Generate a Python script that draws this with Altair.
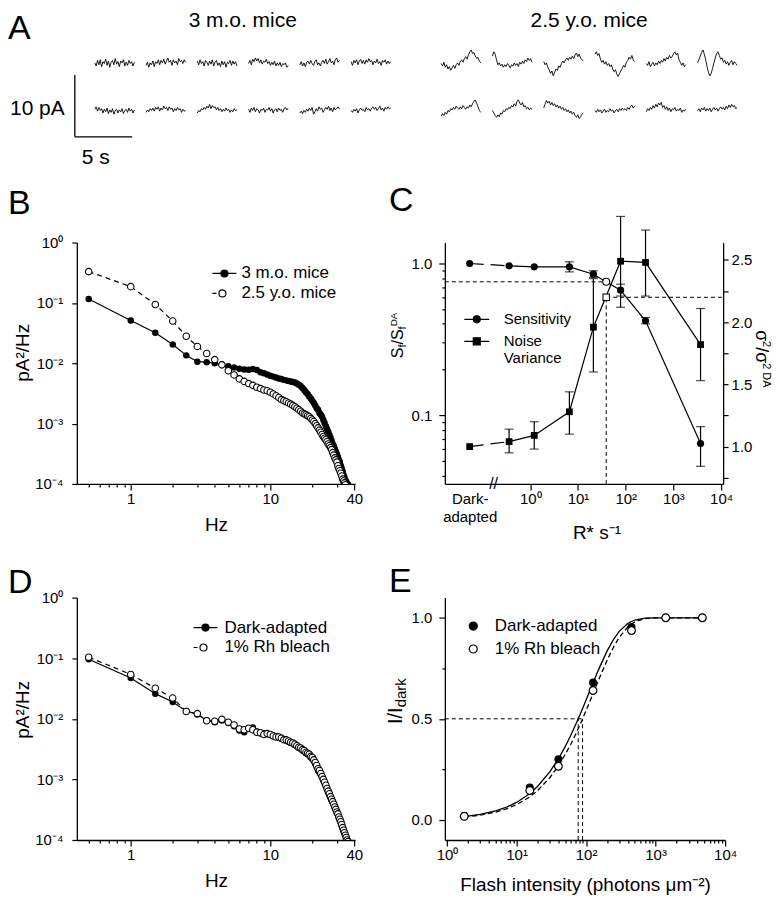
import altair as alt
import pandas as pd

FONT = "Liberation Sans"

# ======================= DATA =======================
# Panel A: dark-current traces (pA), one list per 3.45 s segment
young_top = [
    [0.1,-0.4,0.5,-0.2,0.6,-0.5,0.3,0.0,0.7,-0.3,0.4,-0.6,0.2,0.5,-0.2,0.8,-0.1,0.3,-0.5,0.4,0.1,0.6,-0.4,0.2,-0.3,0.5,0.0,0.3,-0.4,0.2],
    [-0.3,0.2,-0.6,0.1,-0.2,0.4,-0.5,0.3,0.0,0.6,-0.2,0.5,0.1,0.7,-0.1,0.4,0.9,0.2,0.5,-0.3,0.6,0.1,0.4,-0.2,0.8,0.3,0.5,0.0,0.6,0.2],
    [0.4,-0.2,0.6,0.0,0.3,-0.4,0.5,0.2,-0.3,0.4,-0.1,0.6,-0.4,0.2,0.5,-0.3,0.1,-0.5,0.4,-0.2,0.3,-0.6,0.2,0.0,0.5,-0.3,0.4,-0.1,0.3,-0.4],
    [0.0,0.5,-0.2,0.7,0.3,0.9,0.4,0.8,0.1,0.6,-0.1,0.4,0.2,0.7,0.0,0.3,-0.3,0.2,-0.2,0.4,-0.4,0.1,-0.3,0.2,-0.5,0.0,-0.2,0.1,-0.6,-0.3],
    [-0.2,0.3,-0.4,0.1,-0.5,0.2,0.4,-0.1,0.5,0.0,-0.3,0.3,0.6,-0.2,0.1,-0.4,0.2,0.5,0.0,0.7,-0.1,0.3,0.8,0.1,0.4,-0.2,0.6,0.9,0.2,0.5],
    [0.3,-0.3,0.5,0.1,0.6,-0.2,0.4,0.7,0.0,0.5,-0.1,0.6,0.2,0.8,0.3,0.5,-0.2,0.4,0.1,0.7,0.0,0.3,-0.3,0.5,0.2,0.6,-0.1,0.4,0.0,0.3],
]
young_bot = [
    [0.2,0.6,-0.1,0.5,0.0,0.3,-0.4,0.2,-0.2,0.4,-0.5,0.1,-0.3,0.3,-0.6,0.0,0.2,-0.4,0.1,-0.2,0.3,-0.5,0.0,0.2,-0.3,0.4,-0.1,0.2,-0.4,0.1],
    [-0.3,0.1,-0.2,0.3,0.0,0.4,-0.1,0.5,0.2,0.6,-0.1,0.4,0.1,0.7,0.3,0.5,0.0,0.6,0.2,0.4,-0.2,0.3,0.0,0.5,0.1,0.3,-0.3,0.2,-0.1,0.0],
    [-0.4,0.0,-0.2,0.3,0.1,0.5,0.2,0.7,0.4,1.0,0.3,0.8,0.5,0.6,0.1,0.5,0.0,0.3,-0.2,0.2,-0.1,0.4,0.0,0.2,-0.3,0.1,-0.2,0.3,0.0,0.1],
    [0.2,-0.3,0.4,0.0,0.5,-0.2,0.3,0.1,-0.4,0.2,0.0,0.4,-0.3,0.2,0.1,0.5,-0.1,0.3,-0.4,0.1,0.3,-0.2,0.4,0.0,0.2,-0.3,0.3,0.5,0.1,0.4],
    [-0.4,-0.1,-0.5,0.0,-0.3,0.2,-0.1,0.4,0.0,0.5,-0.6,-0.2,0.3,-0.1,0.6,0.2,0.4,-0.3,0.1,0.5,0.2,0.7,0.0,0.4,-0.2,0.5,0.1,0.3,0.6,0.2],
    [0.0,-0.3,0.2,-0.1,0.3,-0.4,0.1,0.4,0.0,0.2,-0.2,0.5,0.1,0.3,-0.1,0.4,0.6,0.2,0.5,0.0,0.3,0.7,0.1,0.4,-0.1,0.5,0.2,0.6,0.3,0.4],
]
old_top = [
    [0.0,-0.4,0.2,-0.6,-0.2,-0.9,-0.5,-1.1,-0.7,-0.3,-0.8,-0.2,0.1,-0.3,0.3,0.6,0.2,0.8,1.1,0.7,1.4,1.9,2.2,1.6,1.8,1.2,0.8,1.0,0.4,0.1],
    [1.2,1.9,1.5,0.6,-0.2,0.1,-0.4,-0.1,-0.6,-0.2,-0.5,0.0,-0.3,-0.7,-0.2,-0.4,0.1,-0.3,0.0,-0.5,0.2,-0.1,0.4,0.0,0.6,0.3,0.9,0.5,0.8,0.2],
    [0.3,-0.2,0.1,-0.6,-1.0,-1.6,-1.2,-2.0,-1.4,-0.9,-1.1,-0.4,-0.6,0.0,0.4,0.1,0.6,0.9,0.5,1.0,0.7,1.2,0.8,1.4,1.7,1.1,1.5,0.9,0.6,0.4],
    [1.5,1.9,1.3,1.6,0.7,0.2,0.5,-0.1,0.3,-0.3,0.0,-0.5,-0.2,-0.9,-1.3,-1.0,-1.7,-2.1,-1.6,-1.2,-0.8,-0.3,-0.6,0.2,0.5,1.0,0.7,1.3,0.6,0.3],
    [0.0,-0.3,0.3,-0.5,-0.1,0.2,-0.4,0.1,-0.2,0.4,0.0,0.5,0.2,0.8,0.4,1.0,0.7,1.3,0.9,1.1,1.6,1.9,1.4,1.7,0.6,0.2,-0.3,0.1,-0.5,-0.2],
    [0.1,0.6,1.2,1.8,2.2,1.5,0.6,-0.5,-1.4,-2.0,-1.6,-0.8,0.1,0.9,1.6,1.9,1.3,0.7,0.9,0.2,0.5,-0.1,0.3,-0.3,0.2,0.5,-0.2,0.3,0.0,-0.3],
]
old_bot = [
    [-0.9,-0.5,-0.8,-0.3,-0.6,0.0,-0.2,0.3,0.1,0.5,0.2,0.7,0.4,0.2,0.6,0.3,0.8,0.5,0.2,0.6,0.4,0.9,0.6,1.1,1.5,1.7,1.2,0.6,0.0,-0.3],
    [0.0,-0.4,-0.8,-1.1,-0.7,-1.0,-0.4,-0.6,0.0,-0.2,0.3,0.1,0.5,0.3,0.8,0.6,1.1,0.7,1.5,1.7,1.2,0.9,1.3,0.6,0.8,0.3,0.5,0.1,0.4,0.2],
    [0.4,1.0,1.6,1.2,1.5,0.9,1.3,0.8,1.1,0.6,0.9,0.4,0.7,0.2,0.5,0.0,0.3,-0.2,0.1,-0.4,-0.1,-0.6,-0.3,-0.8,-1.1,-0.7,-1.3,-1.0,-0.6,-0.4],
    [0.0,-0.3,0.2,-0.2,0.1,-0.4,-0.1,0.2,-0.3,0.0,-0.2,0.3,-0.1,0.1,-0.4,0.0,0.2,-0.2,0.3,0.0,0.4,0.1,0.3,0.0,0.5,0.2,0.6,0.9,0.4,0.7],
    [-0.2,0.3,0.0,0.5,0.2,0.8,0.4,1.0,0.6,1.2,0.9,1.3,0.5,0.8,0.2,0.6,0.0,0.4,-0.2,0.3,0.1,0.5,-0.1,0.2,0.0,0.4,-0.3,0.1,-0.1,0.2],
    [0.0,0.3,-0.2,0.4,0.1,0.5,-0.1,0.3,0.0,0.4,-0.2,0.2,0.5,0.1,0.4,-0.1,0.3,0.6,0.2,0.5,0.1,0.7,0.3,0.9,0.5,1.0,0.6,0.8,0.3,0.5],
]
A_groups = ["3 m.o. mice", "2.5 y.o. mice"]
SCALE_PA = 10   # vertical scale bar (pA)
SCALE_S = 5     # horizontal scale bar (s)

# Panels B and D: power spectra (pA^2/Hz), sampled every 0.5 Hz from 0.5 Hz
FREQ_STEP = 0.5
B_names = ["3 m.o. mice", "2.5 y.o. mice"]
B_young = [0.116, 0.051, 0.032, 0.0205, 0.0135, 0.0106, 0.0104, 0.0100, 0.0095, 0.0089,
           0.0085, 0.0081, 0.0079, 0.0078, 0.0080, 0.0077, 0.0071, 0.0068, 0.0065, 0.0062,
           0.0060, 0.0058, 0.0056, 0.0055, 0.0053, 0.0052, 0.0051, 0.0050, 0.0049, 0.0048,
           0.0046, 0.0044, 0.0042, 0.0039, 0.0036, 0.0033, 0.0031, 0.0028, 0.0026, 0.0024,
           0.0022, 0.0020, 0.0018, 0.0017, 0.0015, 0.0014, 0.0013, 0.00115, 0.00102, 0.00090,
           0.00081, 0.00073, 0.00065, 0.00058, 0.00052, 0.00046, 0.00042, 0.00038, 0.00034, 0.00031,
           0.00028, 0.00025, 0.00023, 0.00020, 0.00018, 0.00016, 0.00014, 0.000128, 0.000115, 0.000108,
           0.000102, 0.000098]
B_old = [0.33, 0.186, 0.094, 0.050, 0.028, 0.019, 0.0145, 0.0115, 0.0094, 0.0075,
         0.0064, 0.0055, 0.0050, 0.0046, 0.0043, 0.0040, 0.0038, 0.0036, 0.0035, 0.0033,
         0.0031, 0.0029, 0.0027, 0.0025, 0.0024, 0.0023, 0.0022, 0.0021, 0.0020, 0.0019,
         0.0018, 0.0017, 0.0016, 0.0015, 0.00145, 0.0014, 0.00135, 0.0013, 0.00122, 0.00115,
         0.00108, 0.00100, 0.00092, 0.00085, 0.00078, 0.00072, 0.00066, 0.00061, 0.00057, 0.00054,
         0.00050, 0.00046, 0.00043, 0.00040, 0.00037, 0.00033, 0.00030, 0.00027, 0.00025, 0.00023,
         0.00020, 0.00018, 0.000165, 0.00015, 0.000135, 0.00012, 0.000112, 0.000104, 0.000097]
D_names = ["Dark-adapted", "1% Rh bleach"]
D_dark = [0.096, 0.047, 0.026, 0.019, 0.0135, 0.0118, 0.0095, 0.0088, 0.0094, 0.0085,
          0.0075, 0.0064, 0.0060, 0.0068, 0.0072, 0.0062, 0.0057, 0.0058, 0.0056, 0.0054,
          0.0053, 0.0051, 0.0049, 0.0047, 0.0046, 0.0044, 0.0042, 0.0040, 0.0039, 0.0037,
          0.0035, 0.0033, 0.0032, 0.0030, 0.0029, 0.0027, 0.0026, 0.0025, 0.0023, 0.0022,
          0.0020, 0.0018, 0.0016, 0.0014, 0.0013, 0.00118, 0.00107, 0.00096, 0.00086, 0.00076,
          0.00068, 0.00061, 0.00055, 0.00050, 0.00045, 0.00042, 0.00038, 0.00034, 0.00031, 0.00028,
          0.00026, 0.00023, 0.00021, 0.00019, 0.00017, 0.000155, 0.000142, 0.00013, 0.00012, 0.00011,
          0.000102, 0.000096]
D_bleach = [0.104, 0.054, 0.032, 0.022, 0.0132, 0.0122, 0.0093, 0.0091, 0.0098, 0.0088,
            0.0079, 0.0068, 0.0066, 0.0070, 0.0066, 0.0060, 0.0059, 0.0055, 0.0057, 0.0055,
            0.0052, 0.0050, 0.0050, 0.0048, 0.0045, 0.0045, 0.0043, 0.0041, 0.0040, 0.0038,
            0.0036, 0.0034, 0.0033, 0.0031, 0.0030, 0.0028, 0.0027, 0.0026, 0.0024, 0.0023,
            0.0021, 0.0019, 0.0017, 0.0015, 0.0014, 0.00125, 0.00112, 0.0010, 0.0009, 0.0008,
            0.00071, 0.00064, 0.00058, 0.00052, 0.00047, 0.00043, 0.00039, 0.00035, 0.00032, 0.00029,
            0.00027, 0.00024, 0.00022, 0.0002, 0.00018, 0.00016, 0.000145, 0.000132, 0.00012, 0.00011,
            0.0001, 0.000094]

# Panel C: sensitivity (left axis) and noise variance (right axis) vs background
C_names = ["Sensitivity", "Noise Variance"]
DA_X = 0.0537                       # where the dark-adapted point sits on the x axis
C_x = [DA_X, 0.36, 1.21, 6.6, 21, 78, 260, 3700]
C_sens = [1.0, 0.965, 0.95, 0.95, 0.85, 0.667, 0.419, 0.065]
C_sens_lo = [1.0, 0.965, 0.95, 0.88, 0.81, 0.61, 0.40, 0.046]
C_sens_hi = [1.0, 0.965, 0.95, 1.025, 0.895, 0.73, 0.44, 0.084]
C_var = [1.0, 1.04, 1.09, 1.28, 1.96, 2.49, 2.48, 1.82]
C_var_lo = [1.0, 0.95, 0.98, 1.10, 1.60, 2.12, 2.21, 1.53]
C_var_hi = [1.0, 1.14, 1.20, 1.44, 2.35, 2.85, 2.74, 2.11]
C_half_x, C_half_sens, C_half_var = 39, 0.757, 2.20
C_break_x = 0.17

# Panel E: normalised flash response vs flash intensity
E_names = ["Dark-adapted", "1% Rh bleach"]
E_I = [1.77, 15.5, 40, 126, 450, 1400, 4700]
E_dark = [0.02, 0.16, 0.30, 0.68, 0.955, 1.0, 1.0]
E_bleach = [0.017, 0.145, 0.265, 0.64, 0.937, 1.0, 1.0]
E_fit_I = [1.77, 3, 5, 7, 10, 15, 20, 30, 40, 50, 60, 70, 80, 90, 100, 120, 150, 200, 250, 300, 400, 500, 700, 1000, 2000, 4700]
E_fit_dark = [0.016, 0.027, 0.044, 0.061, 0.086, 0.126, 0.165, 0.237, 0.302, 0.362, 0.417, 0.468, 0.513, 0.555,
              0.593, 0.660, 0.741, 0.835, 0.895, 0.933, 0.973, 0.989, 0.998, 1.0, 1.0, 1.0]
E_fit_bleach = [0.014, 0.023, 0.038, 0.053, 0.075, 0.110, 0.144, 0.208, 0.268, 0.323, 0.373, 0.420, 0.463, 0.504,
                0.541, 0.607, 0.689, 0.789, 0.857, 0.903, 0.956, 0.980, 0.996, 1.0, 1.0, 1.0]
E_half = [77, 89]

# ======================= HELPERS =======================
SUP = {0: "⁰", 1: "¹", 2: "²", 3: "³", 4: "⁴", -1: "⁻¹", -2: "⁻²", -3: "⁻³", -4: "⁻⁴"}


def map_expr(pairs, default="''"):
    e = default
    for v, s in reversed(pairs):
        e = f"datum.value == {v!r} ? {s} : ({e})"
    return e


def major_test(vals):
    return " || ".join(f"datum.value == {v!r}" for v in vals)


def tick_size(majors, big=6, small=3):
    return {"condition": {"test": major_test(majors), "value": big}, "value": small}


def lbl(text, x, y, size, angle=0, align="left", baseline="alphabetic"):
    return alt.Chart(pd.DataFrame({"s": [text]})).mark_text(
        font=FONT, fontSize=size, angle=angle, align=align, baseline=baseline, color="black"
    ).encode(x=alt.value(x), y=alt.value(y), text="s:N")


def legend_obj(**kw):
    return alt.Legend(title=None, orient="none", padding=0, symbolStrokeColor="black",
                      symbolStrokeWidth=1.2, labelColor="black", labelFont=FONT, **kw)


def legend_layer(key, names, fills, legend):
    """An empty layer whose only job is to carry a fill legend."""
    return alt.Chart(pd.DataFrame({key: names})).transform_filter("false").mark_point(
        filled=True, strokeWidth=1.2, opacity=1).encode(
        fill=alt.Fill(f"{key}:N", scale=alt.Scale(domain=names, range=fills), legend=legend))


LETTER = 34

# ======================= PANEL A =======================
A_W, A_H = 664, 100
PX_S, PX_PA = 11.5, 6.2
T0 = -18 / PX_S
A_TDOM = [T0, T0 + A_W / PX_S]
A_YDOM = [0, A_H / PX_PA]
SEG_DUR, SEG_PERIOD = 3.45, 4.47
GROUP_START = {A_groups[0]: 0.0, A_groups[1]: 30.2}
ROW_BASE = {"top": 12.5, "bottom": 4.9}

rows = []
for g, tops, bots in [(A_groups[0], young_top, young_bot), (A_groups[1], old_top, old_bot)]:
    for r, segs in [("top", tops), ("bottom", bots)]:
        for k, seg in enumerate(segs):
            n = len(seg)
            for i, v in enumerate(seg):
                rows.append({"t": GROUP_START[g] + k * SEG_PERIOD + i * SEG_DUR / (n - 1),
                             "pA": ROW_BASE[r] + v, "key": f"{g}-{r}-{k}", "i": i})
trace_df = pd.DataFrame(rows)

xA = alt.X("t:Q", scale=alt.Scale(domain=A_TDOM, nice=False, zero=False), axis=None)
yA = alt.Y("pA:Q", scale=alt.Scale(domain=A_YDOM, nice=False, zero=False), axis=None)

traces = alt.Chart(trace_df).mark_line(color="black", strokeWidth=0.9).encode(
    x=xA, y=yA, detail="key:N", order="i:Q")

bar_t, bar_y = -20 / PX_S, 0.65
bar_v = alt.Chart(pd.DataFrame({"t": [bar_t], "pA": [bar_y], "pA2": [bar_y + SCALE_PA]})).mark_rule(
    color="black", strokeWidth=1.3).encode(x=xA, y=yA, y2="pA2:Q")
bar_h = alt.Chart(pd.DataFrame({"t": [bar_t], "t2": [bar_t + SCALE_S], "pA": [bar_y]})).mark_rule(
    color="black", strokeWidth=1.3).encode(x=xA, x2="t2:Q", y=yA)

gt = pd.DataFrame({"t": [GROUP_START[g] + (5 * SEG_PERIOD + SEG_DUR) / 2 for g in A_groups],
                   "pA": [19.4, 19.4], "s": A_groups})
group_titles = alt.Chart(gt).mark_text(font=FONT, fontSize=21, color="black", baseline="middle").encode(
    x=xA, y=yA, text="s:N")

panelA = alt.layer(
    traces, bar_v, bar_h, group_titles,
    lbl(f"{SCALE_PA} pA", -67, 68, 21, baseline="middle"),
    lbl(f"{SCALE_S} s", 19, 117, 21, align="center", baseline="middle"),
    lbl("A", -69, -29, LETTER, baseline="top"),
).properties(width=A_W, height=A_H)

# ======================= PANELS B & D =======================
HZ_DOM = [0.411, 40.5]
HZ_TICKS = [0.5, 0.6, 0.7, 0.8, 0.9, 1, 2, 3, 4, 5, 6, 7, 8, 9, 10, 20, 30, 40]
HZ_MAJ = [1, 10, 40]
PSD_TICKS = [0.0001, 0.001, 0.01, 0.1, 1.0]

PATH_FILLED = "M-1.2,0H-0.35M0.35,0H1.2M0.35,0A0.35,0.35,0,1,1,-0.35,0A0.35,0.35,0,1,1,0.35,0Z"
PATH_OPEN = "M-1.2,0H-0.8M0.15,0A0.35,0.35,0,1,1,-0.55,0A0.35,0.35,0,1,1,0.15,0Z"


def spectrum_panel(filled_vals, open_vals, names, key, W, H, leg_x, leg_y, leg_off, ytitle_y, letter, letter_y):
    df1 = pd.DataFrame({"f": [FREQ_STEP * (i + 1) for i in range(len(filled_vals))], "p": filled_vals})
    df2 = pd.DataFrame({"f": [FREQ_STEP * (i + 1) for i in range(len(open_vals))], "p": open_vals})
    x_axis = alt.Axis(values=HZ_TICKS, labelExpr=map_expr([(v, f"'{v}'") for v in HZ_MAJ]),
                      tickSize=tick_size(HZ_MAJ), title="Hz", titleY=32, labelPadding=2)
    y_axis = alt.Axis(values=PSD_TICKS,
                      labelExpr=map_expr([(v, f"'10{SUP[e]}'") for v, e in zip(PSD_TICKS, [-4, -3, -2, -1, 0])]),
                      tickSize=5, labelPadding=9, title="pA²/Hz", titleX=-44, titleY=ytitle_y,
                      titleAngle=270, titleBaseline="bottom", titleAlign="center")
    x = alt.X("f:Q", scale=alt.Scale(type="log", domain=HZ_DOM, nice=False), axis=x_axis)
    y = alt.Y("p:Q", scale=alt.Scale(type="log", domain=[0.0001, 1], nice=False), axis=y_axis)

    line1 = alt.Chart(df1).mark_line(color="black", strokeWidth=1.2, clip=True).encode(x=x, y=y)
    line2 = alt.Chart(df2).mark_line(color="black", strokeWidth=1.2, strokeDash=[5, 4], clip=True).encode(x=x, y=y)
    pts1 = alt.Chart(df1).mark_circle(color="black", size=42, opacity=1, clip=True).encode(x=x, y=y)
    pts2 = alt.Chart(df2).mark_point(shape="circle", filled=True, fill="white", stroke="black",
                                     strokeWidth=1.1, size=42, opacity=1, clip=True).encode(x=x, y=y)
    leg1 = legend_obj(legendX=leg_x, legendY=leg_y, symbolSize=400, symbolType=PATH_FILLED,
                      labelFontSize=17, labelOffset=leg_off)
    leg2 = legend_obj(legendX=leg_x, legendY=leg_y + 20, symbolSize=400, symbolType=PATH_OPEN,
                      labelFontSize=17, labelOffset=leg_off)
    g1 = alt.layer(line1, pts1, legend_layer(key + "1", [names[0]], ["black"], leg1))
    g2 = alt.layer(line2, pts2, legend_layer(key + "2", [names[1]], ["white"], leg2))
    return alt.layer(g1, g2, lbl(letter, -69, letter_y, LETTER)).resolve_scale(
        fill="independent").properties(width=W, height=H)


panelB = spectrum_panel(B_young, B_old, B_names, "groupB", 279, 242, 137, 20, 6, 110, "B", -29)
panelD = spectrum_panel(D_dark, D_bleach, D_names, "groupD", 279, 243, 118, 19, 8, 112, "D", -5)

# ======================= PANEL C =======================
C_W, C_H = 279, 242
C_XDOM = [0.0162, 11000]
S_DOM = [0.0352, 1.374]
V_DOM = [0.70, 2.64]
C_XT = [DA_X, 1.0, 10.0, 100.0, 1000.0, 10000.0]
c_x_axis = alt.Axis(values=C_XT,
                    labelExpr=map_expr([(DA_X, "['Dark-', 'adapted']")] +
                                       [(v, f"'10{SUP[e]}'") for v, e in zip(C_XT[1:], [0, 1, 2, 3, 4])]),
                    tickSize=6, tickOpacity={"condition": {"test": f"datum.value == {DA_X!r}", "value": 0}, "value": 1},
                    labelLineHeight=18, labelPadding=2, title="R* s⁻¹", titleX=152, titleY=40)
S_TICKS = [0.04, 0.05, 0.06, 0.07, 0.08, 0.09, 0.1, 0.2, 0.3, 0.4, 0.5, 0.6, 0.7, 0.8, 0.9, 1.0]
c_s_axis = alt.Axis(values=S_TICKS, labelExpr=map_expr([(1.0, "'1.0'"), (0.1, "'0.1'")]),
                    tickSize=tick_size([1.0, 0.1]), labelPadding=7, title=None, orient="left")
V_TICKS = [0.75, 1.0, 1.25, 1.5, 1.75, 2.0, 2.25, 2.5]
V_MAJ = [1.0, 1.5, 2.0, 2.5]
c_v_axis = alt.Axis(values=V_TICKS, labelExpr=map_expr([(v, f"'{v:.1f}'") for v in V_MAJ]),
                    tickSize=5, labelPadding=3, title=None, orient="right")

cxs = alt.Scale(type="log", domain=C_XDOM, nice=False)
ss = alt.Scale(type="log", domain=S_DOM, nice=False)
vs = alt.Scale(domain=V_DOM, nice=False, zero=False)
cx = alt.X("x:Q", scale=cxs, axis=c_x_axis)

cdf = pd.DataFrame({"x": C_x, "s": C_sens, "slo": C_sens_lo, "shi": C_sens_hi,
                    "v": C_var, "vlo": C_var_lo, "vhi": C_var_hi})
c_first = cdf.iloc[:2]
c_rest = cdf.iloc[1:]
c_err_s = cdf[cdf.shi > cdf.slo]
c_err_v = cdf[cdf.vhi > cdf.vlo]

ys = lambda f: alt.Y(f"{f}:Q", scale=ss, axis=c_s_axis)
yv = lambda f: alt.Y(f"{f}:Q", scale=vs, axis=c_v_axis)

GUIDE = dict(color="black", strokeWidth=1, strokeDash=[4, 3])
CIRC_LINE = "M-1.25,0H-0.35M0.35,0H1.25M0.35,0A0.35,0.35,0,1,1,-0.35,0A0.35,0.35,0,1,1,0.35,0Z"
SQ_LINE = "M-1.25,0H-0.35M0.35,0H1.25M-0.35,-0.35H0.35V0.35H-0.35Z"
c_leg1 = legend_obj(legendX=21, legendY=66, symbolSize=400, symbolType=CIRC_LINE, labelFontSize=15,
                    labelOffset=16)
c_leg2 = legend_obj(legendX=21, legendY=88, symbolSize=400, symbolType=SQ_LINE, labelFontSize=15,
                    labelOffset=16,
                    labelExpr="datum.label == 'Noise Variance' ? ['   Noise', 'Variance'] : datum.label")

left = alt.layer(
    alt.Chart(pd.DataFrame({"x": [C_XDOM[0]], "x2": [C_half_x], "s": [C_half_sens]})).mark_rule(**GUIDE).encode(
        x=cx, x2="x2:Q", y=ys("s")),
    alt.Chart(c_first).mark_line(color="black", strokeWidth=1.2, strokeDash=[14, 7]).encode(x=cx, y=ys("s")),
    alt.Chart(c_rest).mark_line(color="black", strokeWidth=1.2).encode(x=cx, y=ys("s")),
    alt.Chart(c_err_s).mark_rule(color="black", strokeWidth=1.2).encode(x=cx, y=ys("slo"), y2="shi:Q"),
    alt.Chart(c_err_s).mark_tick(orient="horizontal", color="black", size=9, thickness=1.2).encode(x=cx, y=ys("slo")),
    alt.Chart(c_err_s).mark_tick(orient="horizontal", color="black", size=9, thickness=1.2).encode(x=cx, y=ys("shi")),
    alt.Chart(pd.DataFrame({"x": [C_half_x], "s": [C_half_sens]})).mark_point(
        shape="circle", filled=True, fill="white", stroke="black", strokeWidth=1.1, size=49, opacity=1).encode(
        x=cx, y=ys("s")),
    alt.Chart(cdf).mark_circle(color="black", size=52, opacity=1).encode(x=cx, y=ys("s")),
    alt.Chart(pd.DataFrame({"x": [C_break_x], "s": [S_DOM[0]], "t": ["//"]})).mark_text(
        font=FONT, fontSize=16, color="black", baseline="middle").encode(x=cx, y=ys("s"), text="t:N"),
    legend_layer("groupC1", [C_names[0]], ["black"], c_leg1),
    lbl("C", -56, -32, LETTER),
    lbl("S", -42, 116, 16, angle=270),
    lbl("f", -39, 105.3, 11, angle=270),
    lbl("/S", -42, 102.2, 16, angle=270),
    lbl("f", -39, 87.1, 11, angle=270),
    lbl("DA", -48, 84, 10, angle=270),
    lbl("σ", 312, 88, 18, angle=90),
    lbl("2", 319, 98.8, 11, angle=90),
    lbl("/σ", 312, 104.9, 18, angle=90),
    lbl("2 DA", 319, 120.9, 11, angle=90),
)
right = alt.layer(
    alt.Chart(pd.DataFrame({"x": [C_half_x], "v": [V_DOM[0]], "v2": [C_half_var]})).mark_rule(**GUIDE).encode(
        x=cx, y=yv("v"), y2="v2:Q"),
    alt.Chart(pd.DataFrame({"x": [C_half_x], "x2": [C_XDOM[1]], "v": [C_half_var]})).mark_rule(**GUIDE).encode(
        x=cx, x2="x2:Q", y=yv("v")),
    alt.Chart(c_first).mark_line(color="black", strokeWidth=1.2, strokeDash=[14, 7]).encode(x=cx, y=yv("v")),
    alt.Chart(c_rest).mark_line(color="black", strokeWidth=1.2).encode(x=cx, y=yv("v")),
    alt.Chart(c_err_v).mark_rule(color="black", strokeWidth=1.2).encode(x=cx, y=yv("vlo"), y2="vhi:Q"),
    alt.Chart(c_err_v).mark_tick(orient="horizontal", color="black", size=9, thickness=1.2).encode(x=cx, y=yv("vlo")),
    alt.Chart(c_err_v).mark_tick(orient="horizontal", color="black", size=9, thickness=1.2).encode(x=cx, y=yv("vhi")),
    alt.Chart(pd.DataFrame({"x": [C_half_x], "v": [C_half_var]})).mark_square(
        filled=True, fill="white", stroke="black", strokeWidth=1.1, size=42, opacity=1).encode(x=cx, y=yv("v")),
    alt.Chart(cdf).mark_square(color="black", size=46, opacity=1).encode(x=cx, y=yv("v")),
    legend_layer("groupC2", [C_names[1]], ["black"], c_leg2),
)
panelC = alt.layer(left, right).resolve_scale(y="independent", fill="independent").properties(
    width=C_W, height=C_H)

# ======================= PANEL E =======================
E_W, E_H = 281, 243
E_XDOM = [0.93, 10000]
E_YDOM = [-0.1, 1.1]
E_DEC = [1.0, 10.0, 100.0, 1000.0, 10000.0]
E_XT = sorted(E_DEC + [m * 10.0 ** k for k in range(4) for m in range(2, 10)])
e_x_axis = alt.Axis(values=E_XT, labelExpr=map_expr([(v, f"'10{SUP[e]}'") for v, e in zip(E_DEC, range(5))]),
                    tickSize=tick_size(E_DEC), labelPadding=2, title="Flash intensity (photons μm⁻²)", titleY=36)
e_y_axis = alt.Axis(values=[0.0, 0.25, 0.5, 0.75, 1.0],
                    labelExpr=map_expr([(0.0, "'0.0'"), (0.5, "'0.5'"), (1.0, "'1.0'")]),
                    tickSize=tick_size([0.0, 0.5, 1.0]), labelPadding=7, title=None)
e_ys = alt.Scale(domain=E_YDOM, nice=False, zero=False)
ex = alt.X("I:Q", scale=alt.Scale(type="log", domain=E_XDOM, nice=False), axis=e_x_axis)
ey = lambda f: alt.Y(f"{f}:Q", scale=e_ys, axis=e_y_axis)

e_pts = pd.DataFrame({"I": E_I, "d": E_dark, "b": E_bleach})
e_fit = pd.DataFrame({"I": E_fit_I, "d": E_fit_dark, "b": E_fit_bleach})
e_leg = legend_obj(legendX=20, legendY=20, symbolSize=64, symbolType="circle",
                   labelFontSize=17, labelOffset=13, rowPadding=5)

panelE = alt.layer(
    alt.Chart(pd.DataFrame({"I": [E_XDOM[0]], "I2": [max(E_half)], "r": [0.5]})).mark_rule(**GUIDE).encode(
        x=ex, x2="I2:Q", y=ey("r")),
    alt.Chart(pd.DataFrame({"I": E_half, "r": [E_YDOM[0]] * 2, "r2": [0.5] * 2})).mark_rule(**GUIDE).encode(
        x=ex, y=ey("r"), y2="r2:Q"),
    alt.Chart(e_fit).mark_line(color="black", strokeWidth=1.3).encode(x=ex, y=ey("d")),
    alt.Chart(e_fit).mark_line(color="black", strokeWidth=1.3, strokeDash=[5, 3]).encode(x=ex, y=ey("b")),
    alt.Chart(e_pts).mark_circle(color="black", size=64, opacity=1).encode(x=ex, y=ey("d")),
    alt.Chart(e_pts).mark_point(shape="circle", filled=True, fill="white", stroke="black", strokeWidth=1.2,
                                size=60, opacity=1).encode(x=ex, y=ey("b")),
    legend_layer("groupE", E_names, ["black", "white"], e_leg),
    lbl("E", -56, -6, LETTER),
    lbl("I/I", -43, 110, 20, angle=270, align="right"),
    lbl("dark", -39, 110, 15, angle=270),
).properties(width=E_W, height=E_H)

# ======================= LAYOUT =======================
lower = alt.concat(panelB, panelC, panelD, panelE, columns=2,
                   spacing={"row": 114, "column": 90}, bounds="flush").resolve_scale(
    fill="independent").resolve_legend(fill="independent")
chart = alt.vconcat(panelA, lower, spacing=102, bounds="flush").properties(padding=0).resolve_scale(
    fill="independent").resolve_legend(fill="independent")

chart = chart.configure_view(stroke=None).configure_axis(
    domainColor="black", domainWidth=1.3, tickColor="black", tickWidth=1.2,
    labelColor="black", labelFont=FONT, labelFontSize=15,
    titleFont=FONT, titleFontSize=19, titleFontWeight="normal", titleColor="black",
    grid=False, labelFlush=False, labelOverlap=False,
).configure_legend(
    labelFont=FONT, labelColor="black", symbolStrokeColor="black", symbolStrokeWidth=1.2,
)

chart.save("out.html", embed_options={"renderer": "svg", "actions": False})
